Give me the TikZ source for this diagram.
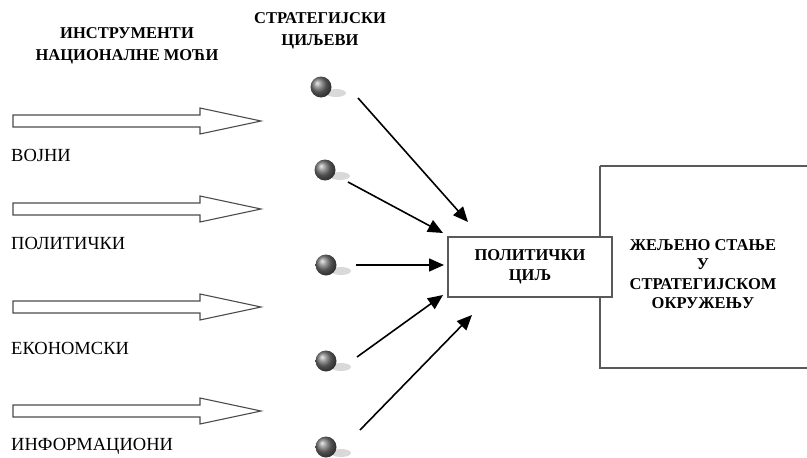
\documentclass[tikz,border=0pt]{standalone}
\usepackage{fontspec}
\setmainfont{Liberation Serif}
\usetikzlibrary{arrows.meta,shapes.geometric}
\begin{document}
\begin{tikzpicture}[x=1pt,y=-1pt,
  fatarrow/.style={draw=black!70,line width=1.1pt,fill=white,line join=miter},
  frame/.style={draw=black!65,line width=1.3pt},
  head/.style={font=\fontsize{16.5}{22}\selectfont\bfseries,align=center,inner sep=0pt},
  lbl/.style={font=\fontsize{18.5}{22}\selectfont,anchor=west,inner sep=0pt},
  boxtext/.style={font=\fontsize{16.5}{19.5}\selectfont\bfseries,align=center,inner sep=0pt},
  goal/.style={circle,inner sep=0pt,minimum size=21pt,shading=ball,ball color=black!55},
  shadowb/.style={ellipse,fill=black!15,inner sep=0pt,minimum width=20pt,minimum height=8pt},
  link/.style={draw=black,line width=1.6pt,-{Triangle[length=15pt,width=13pt]}}]
\useasboundingbox (0,0) rectangle (807,458);
% headers
\node[head] (h1) at (127,46) {ИНСТРУМЕНТИ\\НАЦИОНАЛНЕ МОЋИ};
\node[head] (h2) at (320,31) {СТРАТЕГИЈСКИ\\ЦИЉЕВИ};
% fat arrows and labels
\foreach \yy/\nm/\tx/\ty in {121/a1/ВОЈНИ/155, 209/a2/ПОЛИТИЧКИ/243, 307/a3/ЕКОНОМСКИ/348, 411/a4/ИНФОРМАЦИОНИ/446}{
  \draw[fatarrow] (13,\yy-6) -- (200,\yy-6) -- (200,\yy-13) -- (261,\yy) -- (200,\yy+13) -- (200,\yy+6) -- (13,\yy+6) -- cycle;
  \node[lbl] (\nm) at (11,\ty) {\tx};
}
% big box
\draw[frame] (600,166) -- (830,166) (600,166) -- (600,368) -- (830,368);
\node[boxtext] (goalstate) at (703,274) {ЖЕЉЕНО СТАЊЕ\\У\\СТРАТЕГИЈСКОМ\\ОКРУЖЕЊУ};
% small box
\node[frame,fill=white,minimum width=164pt,minimum height=60pt,inner sep=0pt,
  font=\fontsize{16.5}{20}\selectfont\bfseries,align=center] (pc) at (530,267) {ПОЛИТИЧКИ\\ЦИЉ};
% balls
\foreach \n/\bx/\by in {1/321/87, 2/325/170, 3/326/265, 4/326/361, 5/326/447}{
  \node[shadowb] (s\n) at (\bx+15,\by+6) {};
  \node[goal] (b\n) at (\bx,\by) {};
}
% arrow endpoints
\coordinate (p1) at (358,98);  \coordinate (q1) at (468,222);
\coordinate (p2) at (348,182); \coordinate (q2) at (443,233);
\coordinate (p3) at (356,265); \coordinate (q3) at (444,265);
\coordinate (p4) at (357,357); \coordinate (q4) at (443,295);
\coordinate (p5) at (360,430); \coordinate (q5) at (472,315);
\foreach \n in {1,...,5}{ \draw[link] (p\n) -- (q\n); }
\end{tikzpicture}
\end{document}
